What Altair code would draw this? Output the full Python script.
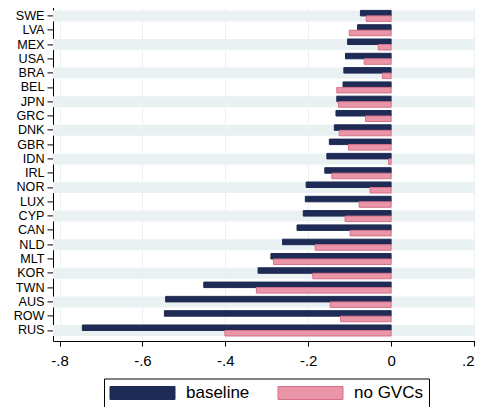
import json
import altair as alt
import pandas as pd

countries = ["SWE", "LVA", "MEX", "USA", "BRA", "BEL", "JPN", "GRC", "DNK", "GBR", "IDN", "IRL",
             "NOR", "LUX", "CYP", "CAN", "NLD", "MLT", "KOR", "TWN", "AUS", "ROW", "RUS"]
baseline = [-0.074, -0.081, -0.105, -0.110, -0.114, -0.116, -0.131, -0.133, -0.137, -0.149, -0.155, -0.160,
            -0.205, -0.207, -0.212, -0.227, -0.262, -0.290, -0.321, -0.452, -0.544, -0.547, -0.745]
no_gvcs = [-0.060, -0.101, -0.031, -0.065, -0.021, -0.131, -0.127, -0.062, -0.125, -0.103, -0.006, -0.143,
           -0.051, -0.077, -0.111, -0.099, -0.183, -0.284, -0.189, -0.325, -0.147, -0.122, -0.401]
series = ["baseline", "no GVCs"]
tick_values = [-0.8, -0.6, -0.4, -0.2, 0, 0.2]
tick_labels = ["-.8", "-.6", "-.4", "-.2", "0", ".2"]

X_MIN, X_MAX = -0.8157, 0.2024
fills = ["#1E2B55", "#E896A8"]
strokes = ["#1E2B55", "#D7708A"]
BAND = "#EAF1F3"

df = pd.DataFrame({
    "country": countries * 2,
    "series": [series[0]] * len(countries) + [series[1]] * len(countries),
    "value": baseline + no_gvcs,
    "zero": 0.0,
})
bands = pd.DataFrame({"country": countries[::2], "x0": X_MIN, "x1": X_MAX})

y_scale = alt.Scale(domain=countries, paddingInner=0.23, paddingOuter=0.35)
x_scale = alt.Scale(domain=[X_MIN, X_MAX], nice=False, zero=False)

label_expr = f"{json.dumps(tick_labels)}[indexof({json.dumps(tick_values)}, datum.value)]"
last_tick = tick_values[-1]
x_axis = alt.Axis(
    values=tick_values, labelExpr=label_expr, tickSize=5, labelPadding=7,
    labelFontSize=15, grid=True, gridColor=BAND, gridWidth=1, title=None,
    labelAlign={"condition": {"test": f"datum.value == {last_tick}", "value": "right"}, "value": "center"},
)
y_axis = alt.Axis(tickSize=6, labelPadding=3, labelFontSize=12.6, grid=False, title=None)

band_layer = alt.Chart(bands).mark_bar(color=BAND).encode(
    y=alt.Y("country:N", scale=y_scale, axis=y_axis, title=None),
    x=alt.X("x0:Q", scale=x_scale, axis=x_axis, title=None),
    x2="x1:Q",
)

sym_path = "M-4.0625,-0.8125H4.0625V0.8125H-4.0625Z"
legend = alt.Legend(
    orient="none", legendX=51, legendY=373.1, direction="horizontal", title=None,
    strokeColor="black", fillColor="white", padding=6,
    symbolType=sym_path, symbolSize=256, symbolOffset=24, symbolStrokeWidth=1,
    labelOffset=35, columnPadding=26, labelFontSize=17, labelColor="black",
    labelFont="Liberation Sans",
)

bars = alt.Chart(df).mark_bar(strokeWidth=1).encode(
    y=alt.Y("country:N", scale=y_scale, axis=y_axis, title=None),
    x=alt.X("value:Q", scale=x_scale, axis=x_axis, title=None),
    x2="zero:Q",
    yOffset=alt.YOffset("series:N", scale=alt.Scale(domain=series, paddingInner=0, paddingOuter=0)),
    color=alt.Color("series:N", scale=alt.Scale(domain=series, range=fills), legend=legend),
    stroke=alt.Stroke("series:N", scale=alt.Scale(domain=series, range=strokes), legend=legend),
)

chart = alt.layer(band_layer, bars).properties(
    width=422, height=335.6,
    autosize=alt.AutoSizeParams(type="none"),
    padding={"left": 45, "top": -2.6, "right": 0, "bottom": 65.5},
).configure(
    font="Liberation Sans",
).configure_view(
    stroke=None,
).configure_axis(
    domainColor="black", tickColor="black", labelColor="black", domainWidth=1, tickWidth=1,
    labelFont="Liberation Sans",
)

chart.save("out.html", embed_options={"renderer": "svg", "actions": False})
